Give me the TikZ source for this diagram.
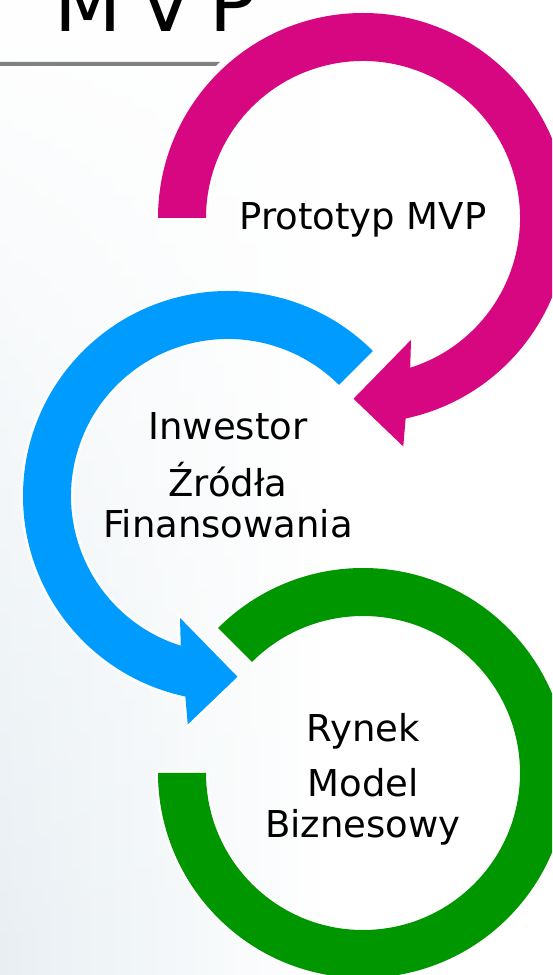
\documentclass[tikz,border=0pt]{standalone}
\usepackage{fontspec}
\setmainfont{DejaVu Sans}
\usetikzlibrary{calc,fadings}
\definecolor{mvpmagenta}{RGB}{214,7,128}
\definecolor{mvpblue}{RGB}{0,155,255}
\definecolor{mvpgreen}{RGB}{0,150,0}
\definecolor{rulegray}{RGB}{128,128,128}
\definecolor{bgtint}{RGB}{232,239,243}
\tikzfading[name=tintfade,top color=transparent!100,bottom color=transparent!0]
\tikzset{>=latex,
  arcband/.style={preaction={draw=white,line width=5pt}},
  circletext/.style={align=center,inner sep=0pt,font=\fontsize{37}{41}\selectfont}}

\begin{document}
\begin{tikzpicture}[x=1pt,y=1pt]

\useasboundingbox (0,0) rectangle (552,975);
\clip (0,0) rectangle (552,975);
\fill[white] (0,0) rectangle (552,975);
\shade[left color=bgtint,right color=white,path fading=tintfade] (0,0) rectangle (330,975);

% title
\fill[rulegray] (0,913) -- (220,913) -- (216,909) -- (0,909) -- cycle;
\node[anchor=base west,inner sep=0pt,font=\fontsize{78}{80}\selectfont] (title) at (-47,943)
  {a\ \kern29pt M\kern17pt V\kern17pt P};

\coordinate (mc) at (363,757);
\coordinate (bc) at (228,479);
\coordinate (gc) at (363,202);

\fill[mvpmagenta,arcband] ($(mc)+(180:205)$) arc[start angle=180,end angle=-78,radius=205]
  -- ($(mc)+(-80:232)$) -- ($(mc)+(-93:181)$) -- ($(mc)+(-68.5:131)$)
  -- ($(mc)+(-72.5:157)$) arc[start angle=-72.5,end angle=180,radius=157] -- cycle;
\fill[mvpblue,arcband] ($(bc)+(45:205)$) arc[start angle=45,end angle=258,radius=205]
  -- ($(bc)+(260:232)$) -- ($(bc)+(273:181)$) -- ($(bc)+(248.5:131)$)
  -- ($(bc)+(252.5:157)$) arc[start angle=252.5,end angle=45,radius=157] -- cycle;
\fill[mvpgreen,arcband] ($(gc)+(135:205)$) arc[start angle=135,end angle=-180,radius=205]
  -- ($(gc)+(180:157)$) arc[start angle=-180,end angle=135,radius=157] -- cycle;

% text in the rings (base = last line)
\node[circletext,anchor=base] (proto) at (363,745) {Prototyp MVP};
\node[circletext,anchor=base] (inwestor) at (228,437) {Inwestor\\[16pt]Źródła\\Finansowania};
\node[circletext,anchor=base] (rynek) at (363,137) {Rynek\\[14pt]Model\\Biznesowy};

\end{tikzpicture}
\end{document}
